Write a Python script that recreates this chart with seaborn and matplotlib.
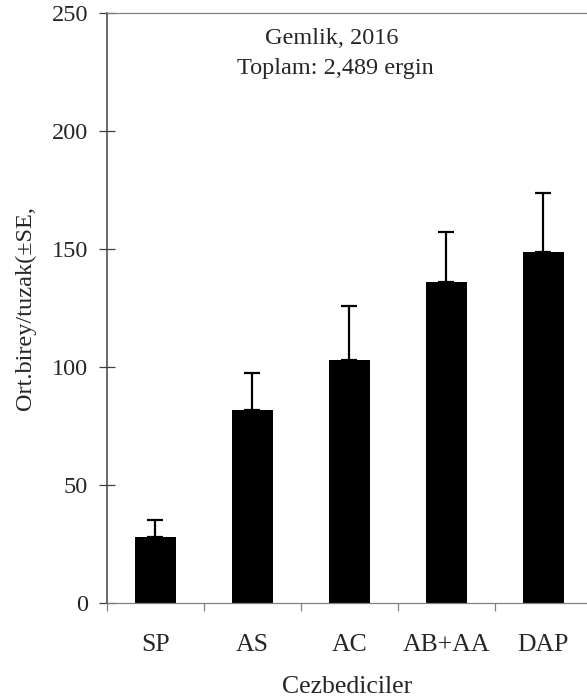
import numpy as np
import pandas as pd
import matplotlib
matplotlib.use("Agg")
import matplotlib.pyplot as plt
import seaborn as sns

# Datos
cezbediciler = ["SP", "AS", "AC", "AB+AA", "DAP"]
ort_birey = [28.1, 81.8, 103.0, 136.1, 148.9]
hata_se = [7.0, 15.5, 22.7, 21.2, 24.8]
y_ticks = [0, 50, 100, 150, 200, 250]

sns.set_style("white")
plt.rcParams["font.family"] = ["Liberation Serif", "DejaVu Serif"]

df = pd.DataFrame({"Cezbediciler": cezbediciler, "Ortalama": ort_birey, "SE": hata_se})

fig = plt.figure(figsize=(5.87, 7.0), dpi=100)
ax = fig.add_axes([0.1823, 0.1386, 0.8177, 0.8429])

sns.barplot(data=df, x="Cezbediciler", y="Ortalama", color="black",
            width=0.43, errorbar=None, ax=ax, saturation=1)
for p in ax.patches:
    p.set_edgecolor("none")

pos = np.arange(len(cezbediciler))
ax.errorbar(pos, df["Ortalama"], yerr=[np.zeros(len(pos)), df["SE"]],
            fmt="none", ecolor="black", elinewidth=1.6, capsize=5.5, capthick=1.6)

ax.set_xlim(-0.5, 4.45)
ax.set_ylim(0, 250)
ax.set_yticks(y_ticks)
ax.set_xticks(pos)
ax.set_xticklabels(cezbediciler)
ax.set_xticks(np.arange(len(cezbediciler)) - 0.5, minor=True)

ax.tick_params(axis="y", which="major", direction="inout", length=11.5, width=0.9,
               color="#404040", labelsize=17.5, pad=8, left=True)
ax.tick_params(axis="x", which="major", length=0, labelsize=18.5, pad=22)
ax.tick_params(axis="x", which="minor", direction="out", length=6, width=0.9,
               color="#808080", bottom=True)

ax.spines["left"].set_color("#404040")
ax.spines["left"].set_linewidth(1.1)
for s in ["top", "bottom"]:
    ax.spines[s].set_color("#808080")
    ax.spines[s].set_linewidth(0.9)
ax.spines["right"].set_visible(False)

ax.set_xlabel("Cezbediciler", fontsize=18.5, labelpad=15)
ax.set_ylabel("Ort.birey/tuzak(±SE,", fontsize=17.5, labelpad=11)

ax.text(1.82, 239, "Gemlik, 2016", ha="center", va="center", fontsize=17.5)
ax.text(1.85, 226.5, "Toplam: 2,489 ergin", ha="center", va="center", fontsize=17.5)

fig.savefig("out.png", dpi=100)
